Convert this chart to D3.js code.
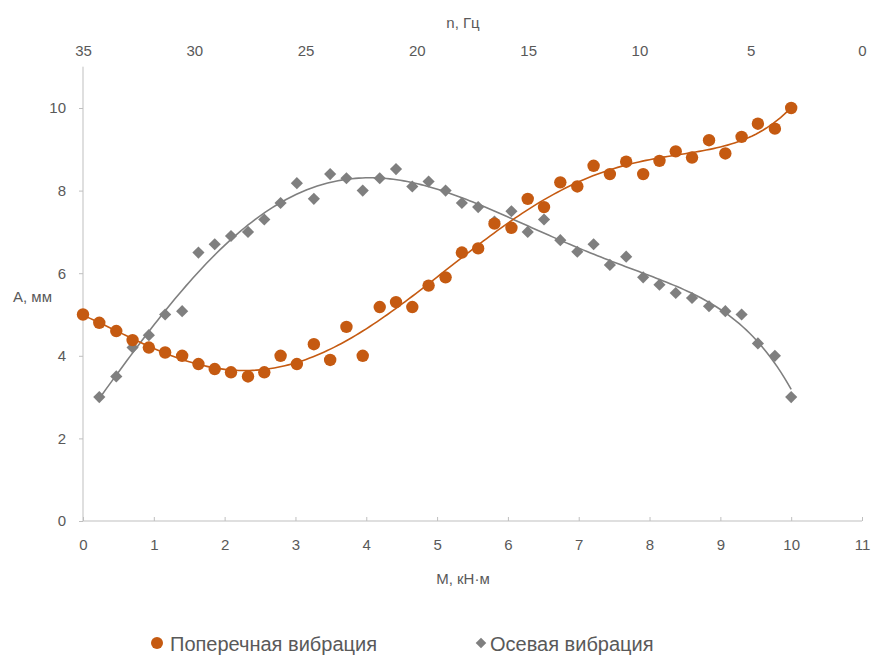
<!DOCTYPE html>
<html>
<head>
<meta charset="utf-8">
<script src="https://cdn.jsdelivr.net/npm/d3@7"></script>
<style>
  html, body { margin: 0; padding: 0; background: #fff; }
  svg { display: block; }
  .narrow { font-family: "Liberation Sans Narrow", "Arial Narrow", "Liberation Sans", sans-serif; }
  .reg { font-family: "Liberation Sans", Arial, sans-serif; }
</style>
</head>
<body>
<svg id="chart" width="874" height="655"></svg>
<script>
// Torque M, kN·m (shared by both series)
const torque = [0, 0.23, 0.47, 0.70, 0.93, 1.16, 1.40, 1.63, 1.86, 2.09, 2.33, 2.56, 2.79, 3.02,
  3.26, 3.49, 3.72, 3.95, 4.19, 4.42, 4.65, 4.88, 5.12, 5.35, 5.58, 5.81, 6.05, 6.28, 6.51, 6.74,
  6.98, 7.21, 7.44, 7.67, 7.91, 8.14, 8.37, 8.60, 8.84, 9.07, 9.30, 9.53, 9.77, 10.0];

// Transverse vibration amplitude, mm
const transverse = [5.0, 4.8, 4.6, 4.38, 4.2, 4.08, 4.0, 3.8, 3.68, 3.6, 3.5, 3.6, 4.0, 3.8,
  4.28, 3.9, 4.7, 4.0, 5.18, 5.3, 5.18, 5.7, 5.9, 6.5, 6.6, 7.2, 7.1, 7.8, 7.6, 8.2,
  8.1, 8.6, 8.4, 8.7, 8.4, 8.72, 8.95, 8.8, 9.22, 8.9, 9.3, 9.62, 9.5, 10.0];

// Axial vibration amplitude, mm (measured from the second torque value on)
const axial = [3.0, 3.5, 4.2, 4.5, 5.0, 5.08, 6.5, 6.7, 6.9, 7.0, 7.3, 7.7, 8.18,
  7.8, 8.4, 8.3, 8.0, 8.3, 8.52, 8.1, 8.22, 8.0, 7.7, 7.6, 7.25, 7.5, 7.0, 7.3, 6.8,
  6.52, 6.7, 6.2, 6.4, 5.9, 5.72, 5.52, 5.4, 5.2, 5.08, 5.0, 4.3, 4.0, 3.0];

const bottomTicks = [0, 1, 2, 3, 4, 5, 6, 7, 8, 9, 10, 11];
const topTicks = [35, 30, 25, 20, 15, 10, 5, 0];
const leftTicks = [0, 2, 4, 6, 8, 10];

const seriesNames = ["Поперечная вибрация", "Осевая вибрация"];
const colors = ["#C55A11", "#7F7F7F"];

const transversePts = torque.map((x, i) => ({ x, y: transverse[i] }));
const axialPts = axial.map((y, i) => ({ x: torque[i + 1], y }));

// Least-squares polynomial trend (x normalised for stability)
function polyFit(pts, deg) {
  const c = 5, s = 5;
  const n = deg + 1;
  const A = Array.from({ length: n }, () => new Array(n + 1).fill(0));
  pts.forEach(p => {
    const t = (p.x - c) / s;
    const pw = [];
    for (let k = 0; k < 2 * n; k++) pw.push(Math.pow(t, k));
    for (let i = 0; i < n; i++) {
      for (let j = 0; j < n; j++) A[i][j] += pw[i + j];
      A[i][n] += pw[i] * p.y;
    }
  });
  for (let col = 0; col < n; col++) {
    let piv = col;
    for (let r = col + 1; r < n; r++) if (Math.abs(A[r][col]) > Math.abs(A[piv][col])) piv = r;
    [A[col], A[piv]] = [A[piv], A[col]];
    for (let r = 0; r < n; r++) {
      if (r === col) continue;
      const f = A[r][col] / A[col][col];
      for (let k = col; k <= n; k++) A[r][k] -= f * A[col][k];
    }
  }
  const coef = A.map((row, i) => row[n] / row[i]);
  return x => {
    const t = (x - c) / s;
    let v = 0;
    for (let k = n - 1; k >= 0; k--) v = v * t + coef[k];
    return v;
  };
}

function trend(pts, deg) {
  const f = polyFit(pts, deg);
  const x0 = d3.min(pts, d => d.x), x1 = d3.max(pts, d => d.x);
  return d3.range(0, 201).map(i => {
    const x = x0 + (x1 - x0) * i / 200;
    return { x, y: f(x) };
  });
}

const svg = d3.select("#chart");
const x = d3.scaleLinear().domain([0, 11]).range([83, 862]);
const xTop = d3.scaleLinear().domain([35, 0]).range([83, 862]);
const y = d3.scaleLinear().domain([0, 11]).range([521, 66.7]);

const axisColor = "#BFBFBF";
const labelColor = "#595959";

// Left axis
const gl = svg.append("g").attr("transform", "translate(83,0)")
  .call(d3.axisLeft(y).tickValues(leftTicks).tickSize(4).tickPadding(6).tickFormat(d3.format("d")));
gl.select(".domain").attr("stroke", axisColor).attr("d", `M0,${y(11)}V${y(0)}`);
gl.selectAll(".tick line").attr("stroke", axisColor);
gl.selectAll(".tick text").attr("class", "reg").attr("font-size", 15).attr("fill", labelColor)
  .attr("x", -17);

// Bottom axis, ticks pointing into the plot
const gb = svg.append("g").attr("transform", `translate(0,${y(0)})`)
  .call(d3.axisBottom(x).tickValues(bottomTicks).tickSize(-4).tickPadding(0).tickFormat(d3.format("d")));
gb.select(".domain").attr("stroke", axisColor).attr("d", `M${x(0)},0H${x(11)}`);
gb.selectAll(".tick line").attr("stroke", axisColor);
gb.selectAll(".tick text").attr("class", "narrow").attr("font-size", 15).attr("fill", labelColor)
  .attr("y", 18).attr("dy", "0.71em");

// Top axis (frequency), labels only
const gt = svg.append("g").attr("transform", "translate(0,56)")
  .call(d3.axisTop(xTop).tickValues(topTicks).tickSize(0).tickPadding(0).tickFormat(d3.format("d")));
gt.select(".domain").remove();
gt.selectAll(".tick text").attr("class", "narrow").attr("font-size", 15).attr("fill", labelColor);

// Axis titles
svg.append("text").attr("class", "narrow").attr("x", 463).attr("y", 28)
  .attr("text-anchor", "middle").attr("font-size", 15).attr("fill", labelColor).text("n, Гц");
svg.append("text").attr("class", "reg").attr("x", 463).attr("y", 584)
  .attr("text-anchor", "middle").attr("font-size", 15).attr("fill", labelColor).text("M, кН·м");
svg.append("text").attr("class", "reg").attr("x", 13).attr("y", 302)
  .attr("font-size", 15).attr("fill", labelColor).text("A, мм");

// Trend lines
const line = d3.line().x(d => x(d.x)).y(d => y(d.y)).curve(d3.curveLinear);
svg.append("path").datum(trend(axialPts, 6)).attr("d", line)
  .attr("fill", "none").attr("stroke", colors[1]).attr("stroke-width", 1.6);
svg.append("path").datum(trend(transversePts, 6)).attr("d", line)
  .attr("fill", "none").attr("stroke", colors[0]).attr("stroke-width", 1.6);

// Markers
svg.append("g").selectAll("path").data(axialPts).join("path")
  .attr("d", d3.symbol().type(d3.symbolSquare).size(74))
  .attr("transform", d => `translate(${x(d.x)},${y(d.y)}) rotate(45)`)
  .attr("fill", colors[1]);
svg.append("g").selectAll("circle").data(transversePts).join("circle")
  .attr("cx", d => x(d.x)).attr("cy", d => y(d.y)).attr("r", 6.2)
  .attr("fill", colors[0]);

// Legend
const lg = svg.append("g");
lg.append("circle").attr("cx", 157).attr("cy", 643).attr("r", 6).attr("fill", colors[0]);
lg.append("text").attr("class", "narrow").attr("x", 170).attr("y", 651)
  .attr("font-size", 20).attr("fill", labelColor).text(seriesNames[0]);
lg.append("path").attr("d", d3.symbol().type(d3.symbolSquare).size(56))
  .attr("transform", "translate(481,643) rotate(45)").attr("fill", colors[1]);
lg.append("text").attr("class", "narrow").attr("x", 490).attr("y", 651)
  .attr("font-size", 20).attr("fill", labelColor).text(seriesNames[1]);
</script>
</body>
</html>
